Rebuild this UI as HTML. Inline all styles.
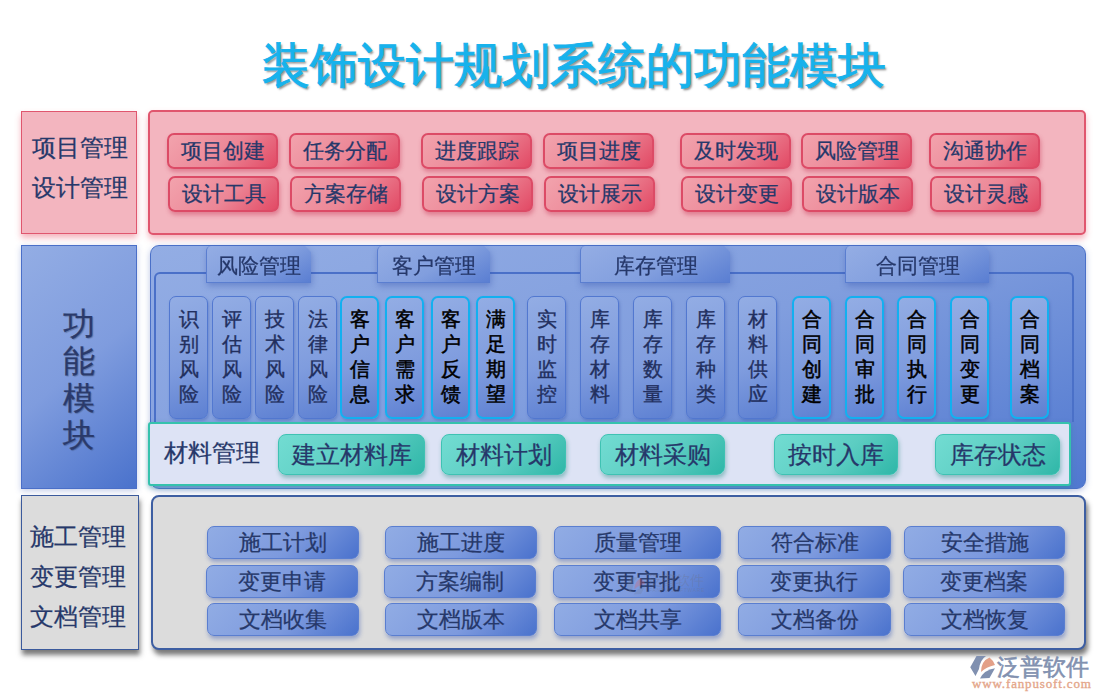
<!DOCTYPE html><html><head><meta charset="utf-8"><style>
*{margin:0;padding:0;box-sizing:border-box}
html,body{width:1100px;height:700px;overflow:hidden;background:#fff}
body{position:relative;font-family:"Liberation Serif",serif;color:#26386a;-webkit-text-stroke:0.25px #26386a}
.a{position:absolute}
.title{left:0;top:36px;width:1148px;text-align:center;font-size:48px;font-weight:normal;color:#17b2ec;text-shadow:2px 2px 2px rgba(60,60,60,.55);letter-spacing:0px;line-height:60px;-webkit-text-stroke:1px #17b2ec}
.c{display:flex;align-items:center;justify-content:center;white-space:nowrap}
.pb{background:linear-gradient(135deg,#f2a3ad 0%,#ec8696 55%,#e24a65 100%);border:2px solid #dc4b66;border-radius:7px;box-shadow:1px 3px 4px rgba(200,60,90,.45);font-size:21px;height:36px;width:111px}
.bb{background:linear-gradient(135deg,#91ace4 0%,#7d9ade 55%,#4a72cd 100%);border:1.5px solid #5a7ed0;border-radius:7px;box-shadow:1px 3px 4px rgba(60,90,180,.45);font-size:22px;height:33px}
.pill{background:linear-gradient(160deg,#93ade4 0%,#7f9cde 55%,#5d80d2 100%);border:1.5px solid #5278d0;border-radius:7px;box-shadow:1px 2px 3px rgba(50,80,170,.35);width:39px;top:296px;height:123px;font-size:20px;line-height:25px;padding-bottom:1px;flex-direction:column;color:#222f5e;-webkit-text-stroke:0.35px #222f5e}
.pill.cy{border:2.5px solid #12b0f0;color:#000;-webkit-text-stroke:0.5px #000}
.tabw{top:246px;height:37px;filter:drop-shadow(1px 3px 3px rgba(50,80,170,.4))}.tab{position:absolute;left:0;top:0;width:100%;height:100%;background:linear-gradient(150deg,#94ade4 0%,#819ede 55%,#5a7ed2 100%);border-left:1px solid #5a7ed0;border-bottom:1.5px solid #5a7ed0;border-radius:5px 0 0 0;font-size:21px;padding-top:3px;clip-path:polygon(0 0,calc(100% - 6px) 0,100% 6px,100% 100%,0 100%)}
.tb{background:linear-gradient(135deg,#72dcd2 0%,#5ccdc2 55%,#2fb7a8 100%);border:1.5px solid #3fc2b3;border-radius:8px;box-shadow:1px 3px 4px rgba(40,140,130,.45);height:41px;top:434px;font-size:24px;width:125px}
</style></head><body>
<div class="a title">装饰设计规划系统的功能模块</div>
<div class="a" style="left:21px;top:111px;width:116px;height:123px;background:#f3b5bf;border:1.5px solid #e0566e;box-shadow:0 4px 6px rgba(230,90,110,.45)"></div>
<div class="a" style="left:27px;top:128px;width:106px;font-size:24px;line-height:40px;letter-spacing:0px;color:#26386a;text-align:center">项目管理<br>设计管理</div>
<div class="a" style="left:148px;top:110px;width:938px;height:125px;background:#f3b5bf;border:2px solid #e0566e;border-radius:5px;box-shadow:0 4px 6px rgba(230,90,110,.45)"></div>
<div class="a c pb" style="left:167px;top:133px">项目创建</div>
<div class="a c pb" style="left:168px;top:176px">设计工具</div>
<div class="a c pb" style="left:289px;top:133px">任务分配</div>
<div class="a c pb" style="left:290px;top:176px">方案存储</div>
<div class="a c pb" style="left:421px;top:133px">进度跟踪</div>
<div class="a c pb" style="left:422px;top:176px">设计方案</div>
<div class="a c pb" style="left:543px;top:133px">项目进度</div>
<div class="a c pb" style="left:544px;top:176px">设计展示</div>
<div class="a c pb" style="left:680px;top:133px">及时发现</div>
<div class="a c pb" style="left:681px;top:176px">设计变更</div>
<div class="a c pb" style="left:801px;top:133px">风险管理</div>
<div class="a c pb" style="left:802px;top:176px">设计版本</div>
<div class="a c pb" style="left:929px;top:133px">沟通协作</div>
<div class="a c pb" style="left:930px;top:176px">设计灵感</div>
<div class="a" style="left:21px;top:245px;width:116px;height:244px;background:linear-gradient(140deg,#93ade4 0%,#7f9cde 50%,#4a72cc 100%);border:1.5px solid #4a6fc8;box-shadow:0 2px 6px rgba(60,90,180,.3)"></div>
<div class="a c" style="left:21px;top:306px;width:116px;font-size:32px;line-height:37px;flex-direction:column;color:#2b3a6b;text-shadow:1px 1px 1px rgba(0,0,0,.25)">功<br>能<br>模<br>块</div>
<div class="a" style="left:150px;top:245px;width:936px;height:244px;background:linear-gradient(160deg,#93ade4 0%,#819ede 50%,#5078d0 100%);border:1.5px solid #4a70c8;border-radius:9px;box-shadow:0 2px 6px rgba(60,90,180,.35)"></div>
<div class="a" style="left:154px;top:272px;width:920px;height:150px;border:2px solid #4a70c8;border-bottom:none;border-radius:6px 6px 0 0"></div>
<div class="a tabw" style="left:206px;width:105px"><div class="c tab">风险管理</div></div>
<div class="a tabw" style="left:377px;width:113px"><div class="c tab">客户管理</div></div>
<div class="a tabw" style="left:580px;width:150px"><div class="c tab">库存管理</div></div>
<div class="a tabw" style="left:845px;width:144px"><div class="c tab">合同管理</div></div>
<div class="a c pill" style="left:169px">识<br>别<br>风<br>险</div>
<div class="a c pill" style="left:212px">评<br>估<br>风<br>险</div>
<div class="a c pill" style="left:255px">技<br>术<br>风<br>险</div>
<div class="a c pill" style="left:298px">法<br>律<br>风<br>险</div>
<div class="a c pill cy" style="left:340px">客<br>户<br>信<br>息</div>
<div class="a c pill cy" style="left:385px">客<br>户<br>需<br>求</div>
<div class="a c pill cy" style="left:431px">客<br>户<br>反<br>馈</div>
<div class="a c pill cy" style="left:476px">满<br>足<br>期<br>望</div>
<div class="a c pill" style="left:527px">实<br>时<br>监<br>控</div>
<div class="a c pill" style="left:580px">库<br>存<br>材<br>料</div>
<div class="a c pill" style="left:633px">库<br>存<br>数<br>量</div>
<div class="a c pill" style="left:686px">库<br>存<br>种<br>类</div>
<div class="a c pill" style="left:738px">材<br>料<br>供<br>应</div>
<div class="a c pill cy" style="left:792px">合<br>同<br>创<br>建</div>
<div class="a c pill cy" style="left:845px">合<br>同<br>审<br>批</div>
<div class="a c pill cy" style="left:897px">合<br>同<br>执<br>行</div>
<div class="a c pill cy" style="left:950px">合<br>同<br>变<br>更</div>
<div class="a c pill cy" style="left:1010px">合<br>同<br>档<br>案</div>
<div class="a" style="left:148px;top:422px;width:923px;height:64px;background:#dde3f5;border:2.5px solid #35c2ad;border-radius:3px;box-shadow:0 2px 5px rgba(40,140,150,.45)"></div>
<div class="a" style="left:164px;top:438px;font-size:24px;line-height:30px;color:#26386a">材料管理</div>
<div class="a c tb" style="left:278px;width:147px">建立材料库</div>
<div class="a c tb" style="left:441px;width:125px">材料计划</div>
<div class="a c tb" style="left:600px;width:125px">材料采购</div>
<div class="a c tb" style="left:774px;width:124px">按时入库</div>
<div class="a c tb" style="left:935px;width:125px">库存状态</div>
<div class="a" style="left:21px;top:495px;width:118px;height:155px;background:#dcdcdc;border:1.5px solid #3b5a9c;box-shadow:1px 5px 5px rgba(50,50,50,.65)"></div>
<div class="a" style="left:28px;top:517px;width:100px;font-size:24px;line-height:40px;color:#26386a;text-align:center">施工管理<br>变更管理<br>文档管理</div>
<div class="a" style="left:151px;top:495px;width:935px;height:155px;background:#dcdcdc;border:2px solid #3d5ea2;border-radius:8px;box-shadow:2px 5px 5px rgba(50,50,50,.65)"></div>
<div class="a c bb" style="left:207px;top:526px;width:152px">施工计划</div>
<div class="a c bb" style="left:206px;top:565px;width:152px">变更申请</div>
<div class="a c bb" style="left:207px;top:603px;width:152px">文档收集</div>
<div class="a c bb" style="left:385px;top:526px;width:152px">施工进度</div>
<div class="a c bb" style="left:384px;top:565px;width:152px">方案编制</div>
<div class="a c bb" style="left:385px;top:603px;width:152px">文档版本</div>
<div class="a c bb" style="left:554px;top:526px;width:167px">质量管理</div>
<div class="a c bb" style="left:553px;top:565px;width:167px">变更审批</div>
<div class="a c bb" style="left:554px;top:603px;width:167px">文档共享</div>
<div class="a c bb" style="left:738px;top:526px;width:153px">符合标准</div>
<div class="a c bb" style="left:737px;top:565px;width:153px">变更执行</div>
<div class="a c bb" style="left:738px;top:603px;width:153px">文档备份</div>
<div class="a c bb" style="left:904px;top:526px;width:161px">安全措施</div>
<div class="a c bb" style="left:903px;top:565px;width:161px">变更档案</div>
<div class="a c bb" style="left:904px;top:603px;width:161px">文档恢复</div>
<svg class="a" style="left:626px;top:576px;opacity:.28" width="20" height="20" viewBox="5 5 26 25">
<path d="M11.5 6 L21 6 Q15 10 14 19 L10.5 26 L5.25 17.25 Z" fill="#7080a0"/>
<path d="M24.5 7.5 Q28 10 30 15 Q21 17 16 22 Q16 11 24.5 7.5 Z" fill="#e36060"/>
<path d="M30 18.25 L24.5 28 L15 28.5 Q19 20 30 18.25 Z" fill="#7080a0"/>
</svg>
<div class="a" style="left:648px;top:571px;font-family:'Liberation Sans',sans-serif;font-size:14px;line-height:18px;color:rgba(110,115,140,.35);-webkit-text-stroke:0">泛普软件</div>
<div class="a" style="left:649px;top:587px;font-family:'Liberation Sans',sans-serif;font-size:5px;line-height:6px;letter-spacing:0.7px;color:rgba(110,115,140,.35);-webkit-text-stroke:0">FANPU SOFTWARE</div>
<svg class="a" style="left:965px;top:650px" width="40" height="35" viewBox="0 0 40 35">
<path d="M11.5 6 L21 6 Q15 10 14 19 L10.5 26 L5.25 17.25 Z" fill="#8090b0"/>
<path d="M24.5 7.5 Q28 10 30 15 Q21 17 16 22 Q16 11 24.5 7.5 Z" fill="#e3a088"/>
<path d="M30 18.25 L24.5 28 L15 28.5 Q19 20 30 18.25 Z" fill="#8090b0"/>
</svg>
<div class="a" style="left:997px;top:652px;font-family:'Liberation Sans',sans-serif;font-size:23px;line-height:30px;color:#8291b0;-webkit-text-stroke:0.6px #8291b0">泛普软件</div>
<div class="a" style="left:972px;top:677px;font-size:13px;line-height:14px;color:#e4a68a;letter-spacing:0.85px;-webkit-text-stroke:0.35px #e4a68a">www.fanpusoft.com</div>
</body></html>
